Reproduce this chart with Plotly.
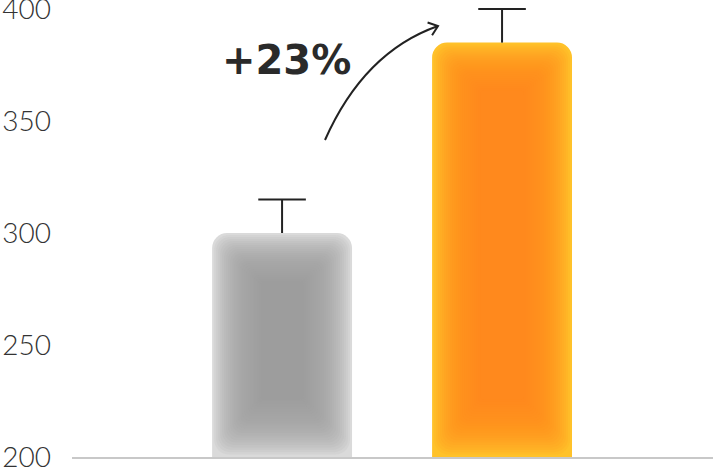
import math
import plotly.graph_objects as go

categories = ["Before", "After"]
values = [300, 385]
errors = [15, 15]
edge_colors = ["#dadada", "#ffc22a"]
core_colors = ["rgba(155,155,155,0.1)", "rgba(255,135,30,0.1)"]

y_min, y_max = 200, 400
x_range = [-0.955, 1.959]

# figure geometry (px) used to place the hand-drawn arrow
W, H = 713, 469
ml, mr, mt, mb = 72, 0, 9, 12
pw, ph = W - ml - mr, H - mt - mb

def px_to_x(px):
    return x_range[0] + (px - ml) / pw * (x_range[1] - x_range[0])

def py_to_y(py):
    return y_min + (H - mb - py) / ph * (y_max - y_min)

unit = (y_max - y_min) / ph  # data units per pixel
xunit = (x_range[1] - x_range[0]) / pw
bar_w = 0.636
pos = list(range(len(categories)))

fig = go.Figure()

fig.add_trace(go.Bar(
    x=pos, y=values, width=bar_w,
    marker=dict(color=edge_colors, line=dict(width=0), cornerradius=15),
))

# soft inner layers to fake the radial shading
K = 24
for k in range(1, K + 1):
    bottom = 2.4 * k * unit
    top = 2.0 * k * unit
    fig.add_trace(go.Bar(
        x=pos,
        y=[v - y_min - bottom - top for v in values],
        base=[y_min + bottom] * len(values),
        width=bar_w - 2 * 2 * k * xunit,
        marker=dict(color=core_colors, line=dict(width=0), cornerradius=max(15 - k // 2, 4)),
        hoverinfo="skip",
    ))

# upper error whiskers + caps
wx, wy = [], []
for p, v, e in zip(pos, values, errors):
    wx += [p, p, None]
    wy += [v, v + e, None]
fig.add_trace(go.Scatter(x=wx, y=wy, mode="lines", line=dict(color="#222222", width=2),
                         hoverinfo="skip"))
fig.add_trace(go.Scatter(x=pos, y=[v + e for v, e in zip(values, errors)], mode="markers",
                         marker=dict(symbol="line-ew", size=34, line=dict(color="#222222", width=2)),
                         hoverinfo="skip", cliponaxis=False))

# curved arrow
p0 = (325, 140)
c = (364, 52)
p2 = (438, 26)
path = "M {},{} Q {},{} {},{}".format(px_to_x(p0[0]), py_to_y(p0[1]),
                                      px_to_x(c[0]), py_to_y(c[1]),
                                      px_to_x(p2[0]), py_to_y(p2[1]))
fig.add_shape(type="path", path=path, xref="x", yref="y",
              line=dict(color="#222222", width=2))

dx, dy = p2[0] - c[0], p2[1] - c[1]
ang = math.atan2(dy, dx)
head = []
for s in (-1, 1):
    a = ang + math.pi + s * math.radians(38)
    head.append((p2[0] + 11 * math.cos(a), p2[1] + 11 * math.sin(a)))
hpath = "M {},{} L {},{} L {},{}".format(px_to_x(head[0][0]), py_to_y(head[0][1]),
                                         px_to_x(p2[0]), py_to_y(p2[1]),
                                         px_to_x(head[1][0]), py_to_y(head[1][1]))
fig.add_shape(type="path", path=hpath, xref="x", yref="y",
              line=dict(color="#222222", width=2))

fig.add_annotation(x=px_to_x(286), y=py_to_y(60), text="+23%", showarrow=False,
                   font=dict(family="DejaVu Sans", size=40, color="#2a2a2a", weight=700))

fig.update_layout(
    width=W, height=H,
    margin=dict(l=ml, r=mr, t=mt, b=mb, autoexpand=False),
    plot_bgcolor="white", paper_bgcolor="white",
    barmode="overlay", showlegend=False,
)
fig.update_xaxes(range=x_range, showticklabels=False, showgrid=False, zeroline=False,
                 showline=True, linecolor="#c8c8c8", linewidth=2, automargin=False)
fig.update_yaxes(range=[y_min, y_max], tickvals=[200, 250, 300, 350, 400],
                 showgrid=False, zeroline=False, showline=False, automargin=False,
                 ticklabelstandoff=20, ticklabeloverflow="allow",
                 tickfont=dict(family="Lato", size=28, color="#333333", weight=300))

# browser default body margin would shift the figure by 8px
fig.write_html("out.html", config={"displayModeBar": False},
               post_script="document.body.style.margin='0';")
